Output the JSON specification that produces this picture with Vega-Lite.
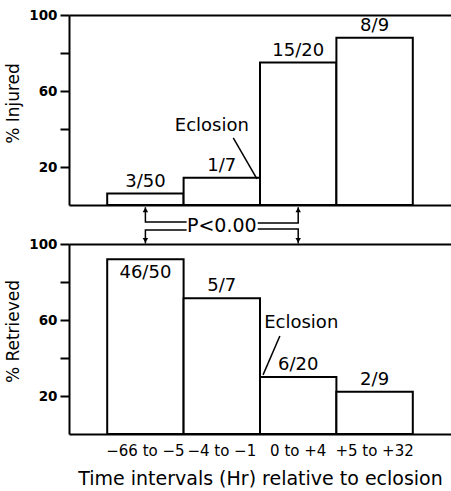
{
  "$schema": "https://vega.github.io/schema/vega-lite/v6.json",
  "padding": {"left": 4, "top": 8, "right": 0, "bottom": 0},
  "background": "white",
  "spacing": 39,
  "bounds": "flush",
  "config": {
    "font": "DejaVu Sans",
    "view": {"stroke": null},
    "axis": {
      "domainColor": "black", "domainWidth": 2, "tickColor": "black", "tickWidth": 2,
      "labelColor": "black", "titleColor": "black", "grid": false,
      "labelFont": "DejaVu Sans", "titleFont": "DejaVu Sans"
    },
    "text": {"font": "DejaVu Sans", "color": "black"}
  },
  "vconcat": [
    {
      "width": 382,
      "height": 190,
      "resolve": {"scale": {"x": "independent"}},
      "layer": [
        {
          "data": {"values": [
            {"interval": "−66 to −5", "pct": 6, "label": "3/50"},
            {"interval": "−4 to −1", "pct": 14.3, "label": "1/7"},
            {"interval": "0 to +4", "pct": 75, "label": "15/20"},
            {"interval": "+5 to +32", "pct": 88, "label": "8/9"}
          ]},
          "encoding": {
            "x": {"field": "interval", "type": "nominal", "sort": null,
              "scale": {"paddingInner": 0, "paddingOuter": 0.5},
              "axis": {"labels": false, "ticks": false, "title": null}},
            "y": {"field": "pct", "type": "quantitative", "scale": {"domain": [0, 100]},
              "axis": {"title": "% Injured", "values": [20, 40, 60, 80, 100],
                "labelExpr": "datum.value % 40 == 20 ? datum.label : ''",
                "tickSize": 9, "labelPadding": 3, "labelFontSize": 13.5, "labelFontWeight": "bold",
                "titleFontSize": 17, "titleFontWeight": "normal", "titlePadding": 6, "labelOverlap": false, "titleY": 88}}
          },
          "layer": [
            {"mark": {"type": "bar", "fill": "white", "stroke": "black", "strokeWidth": 2}},
            {"mark": {"type": "text", "baseline": "bottom", "dy": -3, "fontSize": 18}, "encoding": {"text": {"field": "label"}}}
          ]
        },
        {
          "data": {"values": [
            {"kind": "label", "x": 1.87, "y": 41.6, "t": "Eclosion"},
            {"kind": "p", "x": 2.0, "y": -11.05, "t": "P<0.00"},
            {"kind": "seg", "seg": "E", "o": 1, "x": 2.15, "y": 35.3},
            {"kind": "seg", "seg": "E", "o": 2, "x": 2.46, "y": 13.7},
            {"kind": "seg", "seg": "L1", "o": 1, "x": 1.0, "y": -1.2},
            {"kind": "seg", "seg": "L1", "o": 2, "x": 1.0, "y": -8.9},
            {"kind": "seg", "seg": "L1", "o": 3, "x": 1.54, "y": -8.9},
            {"kind": "seg", "seg": "L2", "o": 1, "x": 1.54, "y": -13.2},
            {"kind": "seg", "seg": "L2", "o": 2, "x": 1.0, "y": -13.2},
            {"kind": "seg", "seg": "L2", "o": 3, "x": 1.0, "y": -20.2},
            {"kind": "seg", "seg": "R1", "o": 1, "x": 2.47, "y": -9.5},
            {"kind": "seg", "seg": "R1", "o": 2, "x": 3.0, "y": -9.5},
            {"kind": "seg", "seg": "R1", "o": 3, "x": 3.0, "y": -1.2},
            {"kind": "seg", "seg": "R2", "o": 1, "x": 2.47, "y": -12.6},
            {"kind": "seg", "seg": "R2", "o": 2, "x": 3.0, "y": -12.6},
            {"kind": "seg", "seg": "R2", "o": 3, "x": 3.0, "y": -20.2},
            {"kind": "up", "x": 1.0, "y": -2.6},
            {"kind": "up", "x": 3.0, "y": -2.6},
            {"kind": "down", "x": 1.0, "y": -18.6},
            {"kind": "down", "x": 3.0, "y": -18.6}
          ]},
          "encoding": {
            "x": {"field": "x", "type": "quantitative", "scale": {"domain": [0, 5], "nice": false, "zero": false},
              "axis": {"orient": "top", "labels": false, "ticks": false, "title": null}},
            "y": {"field": "y", "type": "quantitative", "scale": {"domain": [0, 100]},
              "axis": {"title": "% Injured", "values": [20, 40, 60, 80, 100],
                "labelExpr": "datum.value % 40 == 20 ? datum.label : ''",
                "tickSize": 9, "labelPadding": 3, "labelFontSize": 13.5, "labelFontWeight": "bold",
                "titleFontSize": 17, "titleFontWeight": "normal", "titlePadding": 6, "labelOverlap": false, "titleY": 88}}
          },
          "layer": [
            {"transform": [{"filter": "datum.kind == 'label'"}],
             "mark": {"type": "text", "fontSize": 18, "baseline": "middle"},
             "encoding": {"text": {"field": "t"}}},
            {"transform": [{"filter": "datum.kind == 'p'"}],
             "mark": {"type": "text", "fontSize": 19, "baseline": "middle"},
             "encoding": {"text": {"field": "t"}}},
            {"transform": [{"filter": "datum.kind == 'seg'"}],
             "mark": {"type": "line", "color": "black", "strokeWidth": 1.5},
             "encoding": {"detail": {"field": "seg"}, "order": {"field": "o"}}},
            {"transform": [{"filter": "datum.kind == 'up'"}],
             "mark": {"type": "point", "shape": "triangle-up", "filled": true, "color": "black", "size": 30, "opacity": 1}},
            {"transform": [{"filter": "datum.kind == 'down'"}],
             "mark": {"type": "point", "shape": "triangle-down", "filled": true, "color": "black", "size": 30, "opacity": 1}}
          ]
        }
      ]
    },
    {
      "width": 382,
      "height": 190,
      "resolve": {"scale": {"x": "independent"}},
      "layer": [
        {
          "data": {"values": [
            {"interval": "−66 to −5", "pct": 92, "label": "46/50"},
            {"interval": "−4 to −1", "pct": 71.4, "label": "5/7"},
            {"interval": "0 to +4", "pct": 30, "label": "6/20"},
            {"interval": "+5 to +32", "pct": 22.2, "label": "2/9"}
          ]},
          "encoding": {
            "x": {"field": "interval", "type": "nominal", "sort": null,
              "scale": {"paddingInner": 0, "paddingOuter": 0.5},
              "axis": {"ticks": false, "tickSize": 0, "labelPadding": 9, "labelFontSize": 15, "labelAngle": 0,
                "title": "Time intervals (Hr) relative to eclosion", "titleFontSize": 19,
                "titleFontWeight": "normal", "titlePadding": 11}},
            "y": {"field": "pct", "type": "quantitative", "scale": {"domain": [0, 100]},
              "axis": {"title": "% Retrieved", "values": [20, 40, 60, 80, 100],
                "labelExpr": "datum.value % 40 == 20 ? datum.label : ''",
                "tickSize": 9, "labelPadding": 3, "labelFontSize": 13.5, "labelFontWeight": "bold",
                "titleFontSize": 17, "titleFontWeight": "normal", "titlePadding": 6, "labelOverlap": false, "titleY": 87}}
          },
          "layer": [
            {"mark": {"type": "bar", "fill": "white", "stroke": "black", "strokeWidth": 2}},
            {"transform": [{"filter": "datum.pct < 90"}],
             "mark": {"type": "text", "baseline": "bottom", "dy": -3, "fontSize": 18}, "encoding": {"text": {"field": "label"}}},
            {"transform": [{"filter": "datum.pct >= 90"}],
             "mark": {"type": "text", "baseline": "top", "dy": 5, "fontSize": 18}, "encoding": {"text": {"field": "label"}}}
          ]
        },
        {
          "data": {"values": [
            {"kind": "label", "x": 3.04, "y": 58.4, "t": "Eclosion"},
            {"kind": "seg", "seg": "E", "o": 1, "x": 2.76, "y": 51.6},
            {"kind": "seg", "seg": "E", "o": 2, "x": 2.54, "y": 31.1}
          ]},
          "encoding": {
            "x": {"field": "x", "type": "quantitative", "scale": {"domain": [0, 5], "nice": false, "zero": false},
              "axis": {"orient": "top", "labels": false, "ticks": false, "title": null}},
            "y": {"field": "y", "type": "quantitative", "scale": {"domain": [0, 100]},
              "axis": {"title": "% Retrieved", "values": [20, 40, 60, 80, 100],
                "labelExpr": "datum.value % 40 == 20 ? datum.label : ''",
                "tickSize": 9, "labelPadding": 3, "labelFontSize": 13.5, "labelFontWeight": "bold",
                "titleFontSize": 17, "titleFontWeight": "normal", "titlePadding": 6, "labelOverlap": false, "titleY": 87}}
          },
          "layer": [
            {"transform": [{"filter": "datum.kind == 'label'"}],
             "mark": {"type": "text", "fontSize": 18, "baseline": "middle"},
             "encoding": {"text": {"field": "t"}}},
            {"transform": [{"filter": "datum.kind == 'seg'"}],
             "mark": {"type": "line", "color": "black", "strokeWidth": 1.5},
             "encoding": {"detail": {"field": "seg"}, "order": {"field": "o"}}}
          ]
        }
      ]
    }
  ]
}
